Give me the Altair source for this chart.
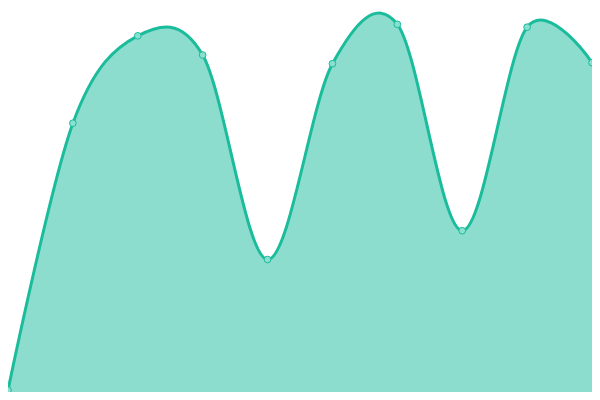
import altair as alt
import pandas as pd

idx = [0, 1, 2, 3, 4, 5, 6, 7, 8, 9]
values = [2, 280, 371, 351, 138, 342, 383, 168, 380, 343]

df = pd.DataFrame({"i": idx, "v": values})

x = alt.X("i:Q", axis=None, scale=alt.Scale(domain=[0, 9], nice=False, zero=False))
y = alt.Y("v:Q", axis=None, scale=alt.Scale(domain=[0, 400], nice=False))

base = alt.Chart(df).encode(x=x, y=y)

area = base.mark_area(interpolate="cardinal", color="#1abc9c", opacity=0.5)
line = base.mark_line(interpolate="cardinal", color="#1abc9c", strokeWidth=3)
pts = base.mark_point(filled=True, fill="#8ae0cf", stroke="#1abc9c", strokeWidth=1, size=45, opacity=1)

chart = (area + line + pts).properties(
    width=584, height=384, padding=0, autosize=alt.AutoSizeParams(type="none")
).configure_view(stroke=None)

chart.save("out.html", embed_options={"renderer": "svg", "actions": False})
